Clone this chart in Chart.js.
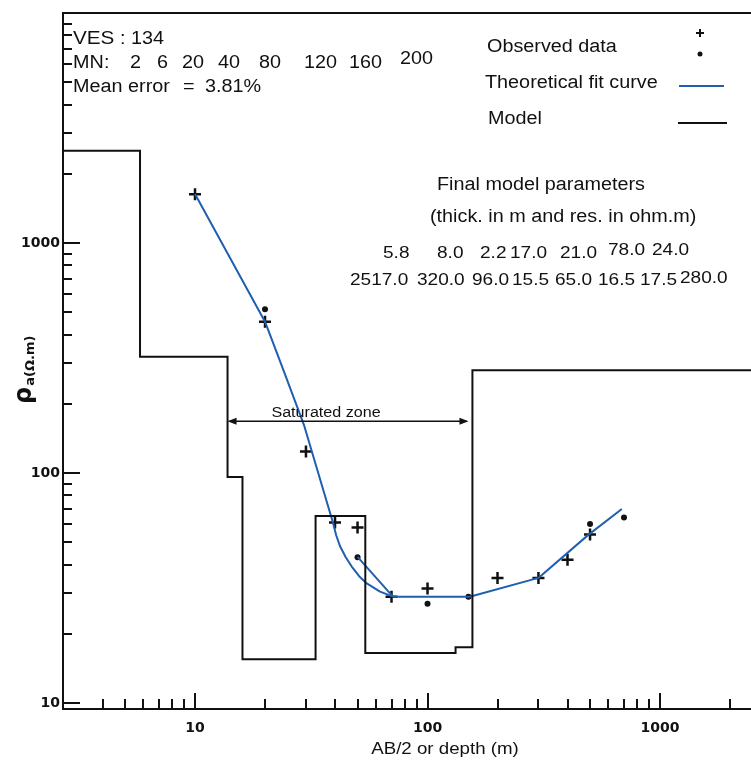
<!DOCTYPE html>
<html>
<head>
<meta charset="utf-8">
<title>VES 134</title>
<script src="https://cdn.jsdelivr.net/npm/chart.js@4.4.0/dist/chart.umd.min.js"></script>
<style>
  html, body { margin: 0; padding: 0; background: #fff; }
  #wrap { width: 751px; height: 764px; }
</style>
</head>
<body>
<div id="wrap"><canvas id="vesChart" width="751" height="764"></canvas></div>
<script>
// observed apparent resistivity (two readings per spacing: crosses and dots)
var crossAB = [10, 20, 30, 40, 50, 70, 100, 200, 300, 400, 500];
var crossRho = [1630, 455, 124, 61, 58, 29, 31.5, 35, 35, 42, 54];
var dotAB = [20, 50, 100, 150, 500, 700];
var dotRho = [515, 43, 27, 29, 60, 64];

// theoretical fit curve as drawn
var fitAB = [10, 20, 24, 29.4, 39.1, 40.5, 42.1, 44.5, 47.2, 50.8, 54.8, 62.5, 71, 152, 300, 490, 685];
var fitRho = [1633, 455, 280, 162, 61.4, 53.5, 47.9, 43.0, 39.2, 35.6, 33.1, 30.5, 29, 29, 35, 53.7, 69.7];
var fitSideAB = [50, 71];
var fitSideRho = [43.2, 29];

// final model parameters
var thickness = [5.8, 8.0, 2.2, 17.0, 21.0, 78.0, 24.0];
var resistivity = [2517.0, 320.0, 96.0, 15.5, 65.0, 16.5, 17.5, 280.0];

var mnSpacing = [2, 6, 20, 40, 80, 120, 160, 200];
var saturatedZone = [13.8, 150];
var saturatedRho = 168;

var xTicks = [10, 100, 1000];
var yTicks = [10, 100, 1000];
var X_MIN = 2.705, X_MAX = 2462;
var Y_MIN = 9.42, Y_MAX = 10000;

var BLUE = '#1f5fb0';
var INK = '#111111';

function pts(xs, ys) {
    return xs.map(function(x, i) { return { x: x, y: ys[i] }; });
}

// step line of the layered model: horizontal at each layer's resistivity, down to the next
var modelPoints = [{ x: X_MIN, y: resistivity[0] }];
var depth = 0;
thickness.forEach(function(t, i) {
    depth += t;
    modelPoints.push({ x: depth, y: resistivity[i + 1] });
});
modelPoints.push({ x: X_MAX, y: resistivity[resistivity.length - 1] });

function txt(c, s, x, y, size, sx, weight, align) {
    c.save();
    c.font = (weight || 'normal') + ' ' + size + 'px "Liberation Sans", Arial, sans-serif';
    c.fillStyle = INK;
    c.textAlign = align || 'left';
    c.textBaseline = 'alphabetic';
    c.translate(x, y);
    c.scale(sx, 1);
    c.fillText(s, 0, 0);
    c.restore();
}

function decadeValues(min, max, from) {
    var out = [];
    for (var k = 1; k <= 10000; k *= 10) {
        for (var m = 1; m <= 9; m++) {
            var v = m * k;
            if (v >= min && v <= max && v >= from) out.push({ v: v, major: m === 1 });
        }
    }
    return out;
}

var decorPlugin = {
    id: 'decor',
    afterDraw: function(chart) {
        var c = chart.ctx;
        var a = chart.chartArea;
        var xs = chart.scales.x, ys = chart.scales.y;

        c.save();
        c.strokeStyle = INK;
        c.lineWidth = 2;
        // top frame
        c.beginPath();
        c.moveTo(a.left - 1, a.top);
        c.lineTo(a.right, a.top);
        c.stroke();

        // inward tick marks
        decadeValues(X_MIN, X_MAX, 4).forEach(function(t) {
            var px = Math.round(xs.getPixelForValue(t.v));
            c.beginPath();
            c.moveTo(px, a.bottom);
            c.lineTo(px, a.bottom - (t.major ? 16 : 10));
            c.stroke();
        });
        decadeValues(Y_MIN, Y_MAX, 1).forEach(function(t) {
            var py = Math.round(ys.getPixelForValue(t.v));
            c.beginPath();
            c.moveTo(a.left, py);
            c.lineTo(a.left + (t.major ? 17 : 9), py);
            c.stroke();
        });

        // saturated zone arrow
        var x1 = xs.getPixelForValue(saturatedZone[0]);
        var x2 = xs.getPixelForValue(saturatedZone[1]);
        var ay = ys.getPixelForValue(saturatedRho);
        c.lineWidth = 1.5;
        c.beginPath();
        c.moveTo(x1 + 2, ay);
        c.lineTo(x2 - 2, ay);
        c.stroke();
        c.fillStyle = INK;
        c.beginPath();
        c.moveTo(x1, ay); c.lineTo(x1 + 9, ay - 3.5); c.lineTo(x1 + 9, ay + 3.5); c.closePath();
        c.moveTo(x2, ay); c.lineTo(x2 - 9, ay - 3.5); c.lineTo(x2 - 9, ay + 3.5); c.closePath();
        c.fill();
        txt(c, 'Saturated zone', (x1 + x2) / 2 - 22, ay - 4, 14, 1.15, 'normal', 'center');

        // header block
        txt(c, 'VES', 73, 44, 18, 1.15);
        txt(c, ':', 120, 44, 18, 1.1);
        txt(c, '134', 131, 44, 18, 1.1);
        txt(c, 'MN', 73, 68, 18, 1.1);
        txt(c, ':', 104, 68, 18, 1.1);
        var mnX = [130, 157, 182, 218, 259, 304, 349, 400];
        mnSpacing.forEach(function(v, i) {
            txt(c, String(v), mnX[i], i === mnSpacing.length - 1 ? 64 : 68, 18, 1.1);
        });
        txt(c, 'Mean error', 73, 92, 18, 1.1);
        txt(c, '=', 183, 92, 18, 1.1);
        txt(c, '3.81%', 205, 92, 18, 1.1);

        // legend
        txt(c, 'Observed data', 487, 52, 18, 1.1);
        c.lineWidth = 2;
        c.beginPath();
        c.moveTo(696, 33); c.lineTo(704, 33);
        c.moveTo(700, 29); c.lineTo(700, 37);
        c.stroke();
        c.beginPath();
        c.arc(700, 54, 2.5, 0, Math.PI * 2);
        c.fill();
        txt(c, 'Theoretical fit curve', 485, 88, 18, 1.1);
        c.strokeStyle = BLUE;
        c.beginPath(); c.moveTo(679, 86); c.lineTo(724, 86); c.stroke();
        txt(c, 'Model', 488, 124, 18, 1.1);
        c.strokeStyle = INK;
        c.beginPath(); c.moveTo(678, 123); c.lineTo(727, 123); c.stroke();

        // final model parameters
        txt(c, 'Final model parameters', 437, 190, 18, 1.1);
        txt(c, '(thick. in m and res. in ohm.m)', 430, 222, 18, 1.1);
        var thX = [383, 437, 480, 510, 560, 608, 652];
        thickness.forEach(function(v, i) {
            txt(c, v.toFixed(1), thX[i], i >= 5 ? 255 : 258, 17, 1.12);
        });
        var reX = [350, 417, 472, 512, 555, 598, 640, 680];
        resistivity.forEach(function(v, i) {
            txt(c, v.toFixed(1), reX[i], i === 7 ? 283 : 285, 17, 1.12);
        });

        // axis titles
        txt(c, 'AB/2 or depth (m)', 445, 754, 17, 1.1, 'normal', 'center');
        c.save();
        c.translate(31, 404);
        c.rotate(-Math.PI / 2);
        c.fillStyle = INK;
        c.textAlign = 'left';
        c.font = 'bold 24px "DejaVu Sans", sans-serif';
        c.fillText('ρ', 0, 0);
        var w = c.measureText('ρ').width;
        c.font = 'bold 13px "DejaVu Sans", sans-serif';
        c.fillText('a(Ω.m)', w + 1, 3);
        c.restore();

        c.restore();
    }
};

var tickFont = { family: 'DejaVu Sans', size: 14, weight: 'bold' };

var ctx = document.getElementById('vesChart').getContext('2d');
var myChart = new Chart(ctx, {
    type: 'line',
    data: {
        datasets: [{
            label: 'Model',
            data: modelPoints,
            stepped: 'before',
            borderColor: INK,
            borderWidth: 2,
            pointRadius: 0,
            fill: false
        }, {
            label: 'Theoretical fit curve',
            data: pts(fitAB, fitRho),
            borderColor: BLUE,
            borderWidth: 2,
            pointRadius: 0,
            tension: 0,
            borderJoinStyle: 'round',
            fill: false
        }, {
            label: 'Theoretical fit curve (branch)',
            data: pts(fitSideAB, fitSideRho),
            borderColor: BLUE,
            borderWidth: 2,
            pointRadius: 0,
            fill: false
        }, {
            label: 'Observed data +',
            data: pts(crossAB, crossRho),
            showLine: false,
            pointStyle: 'cross',
            pointRadius: 6,
            borderColor: INK,
            borderWidth: 2.5
        }, {
            label: 'Observed data •',
            data: pts(dotAB, dotRho),
            showLine: false,
            pointStyle: 'circle',
            pointRadius: 3,
            backgroundColor: INK,
            borderColor: INK,
            borderWidth: 0
        }]
    },
    options: {
        responsive: false,
        animation: false,
        layout: { autoPadding: false, padding: { top: 13, right: 0, bottom: 0, left: 0 } },
        plugins: {
            legend: { display: false },
            tooltip: { enabled: false }
        },
        scales: {
            x: {
                type: 'logarithmic',
                position: 'bottom',
                min: X_MIN,
                max: X_MAX,
                afterFit: function(s) { s.height = 55; },
                afterBuildTicks: function(s) {
                    s.ticks = xTicks.map(function(v) { return { value: v }; });
                },
                ticks: {
                    autoSkip: false,
                    maxRotation: 0,
                    padding: 11,
                    color: INK,
                    font: tickFont,
                    callback: function(v) { return String(v); }
                },
                grid: { display: false, drawTicks: false },
                border: { display: true, color: INK, width: 2 }
            },
            y: {
                type: 'logarithmic',
                min: Y_MIN,
                max: Y_MAX,
                afterFit: function(s) { s.width = 63; },
                afterBuildTicks: function(s) {
                    s.ticks = yTicks.map(function(v) { return { value: v }; });
                },
                ticks: {
                    autoSkip: false,
                    padding: 3,
                    color: INK,
                    font: tickFont,
                    callback: function(v) { return String(v); }
                },
                grid: { display: false, drawTicks: false },
                border: { display: true, color: INK, width: 2 }
            }
        }
    },
    plugins: [decorPlugin]
});
</script>
</body>
</html>
